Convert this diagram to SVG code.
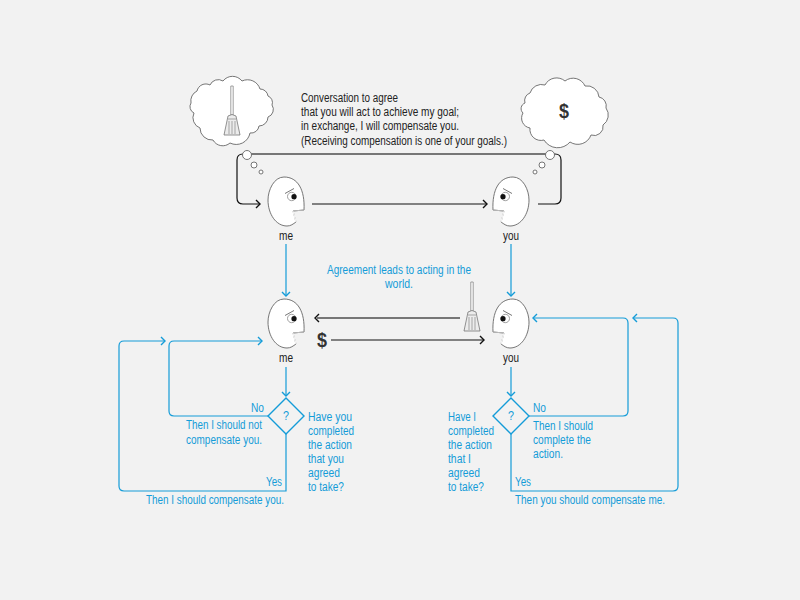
<svg xmlns="http://www.w3.org/2000/svg" width="800" height="600" viewBox="0 0 800 600">
<style>
text{font-family:"Liberation Sans",sans-serif;font-size:12px}
.k{fill:#222}.b{fill:#149cd8}
.bl{fill:none;stroke:#149cd8;stroke-width:1.2}
.bk{fill:none;stroke:#111;stroke-width:1.2}
.gy{fill:none;stroke:#777;stroke-width:2.2}
.ln{fill:#fff;stroke:#666;stroke-width:.9}
.face{fill:#fff;stroke:#666;stroke-width:.9}
.d{font-weight:bold;font-size:20px;fill:#333}
</style>
<defs>
<marker id="ab" markerUnits="userSpaceOnUse" markerWidth="8" markerHeight="10" refX="6" refY="5" orient="auto"><path d="M2 1L6 5L2 9" fill="none" stroke="#149cd8" stroke-width="1.4"/></marker>
<marker id="ak" markerUnits="userSpaceOnUse" markerWidth="8" markerHeight="10" refX="6" refY="5" orient="auto"><path d="M2 1L6 5L2 9" fill="none" stroke="#111" stroke-width="1.4"/></marker>
<g id="f"><path class="face" d="M304 210C305 190 298 177 284 177C274 177 268 190 268 200C268 214 276 226 287 226C291 226 293 224 296 222L293 211Z"/><path d="M293 211L296 222" stroke="#f2f2f2" stroke-width="1.4"/><path d="M304 210L293 211" stroke="#bbb" stroke-width="1"/><circle cx="291.7" cy="196.5" r="4.2" fill="#fff" stroke="#888" stroke-width=".8"/><circle cx="294" cy="196.700" r="2.6" fill="#111"/><path d="M285 193.500L294 188.500" stroke="#666" stroke-width=".9"/></g>
<g id="br"><path d="M-1.200 0H1.200V29H-1.200Z" fill="#fff" stroke="#888" stroke-width=".8"/><path d="M-4 30Q0 27 4 30L8 49H-8Z" fill="#ececec" stroke="#777" stroke-width=".8"/><path d="M-4 33H4M-3 35V48M0 35V48M3 35V48" stroke="#888" stroke-width=".7"/></g>
</defs>
<rect width="800" height="600" fill="#f2f2f2"/>
<g id="connectors">
<path class="gy" d="M247 154H550"/>
<path class="bk" d="M247 154H243Q237 154 237 160V198Q237 204 243 204H260" marker-end="url(#ak)"/>
<path class="bk" d="M312 204H487" marker-end="url(#ak)"/>
<path class="bk" d="M538 204H555Q561 204 561 198V160Q561 154 555 154H550"/>
<path class="bl" d="M286 244V296" marker-end="url(#ab)"/>
<path class="bl" d="M511 244V296" marker-end="url(#ab)"/>
<path class="gy" d="M460 318H317"/><path d="M319 314L315 318L319 322" fill="none" stroke="#111" stroke-width="1.4"/>
<path class="bk" d="M331 340H484" marker-end="url(#ak)"/>
<path class="bl" d="M286 367V396" marker-end="url(#ab)"/>
<path class="bl" d="M511 367V396" marker-end="url(#ab)"/>
<path class="bl" d="M268 416H174Q169 416 169 411V346Q169 341 174 341H262" marker-end="url(#ab)"/>
<path class="bl" d="M286 434V491H124Q119 491 119 486V346Q119 341 124 341H165" marker-end="url(#ab)"/>
<path class="bl" d="M529 416H623Q628 416 628 411V323Q628 318 623 318H533" marker-end="url(#ab)"/>
<path class="bl" d="M511 434V491H673Q678 491 678 486V323Q678 318 673 318H633" marker-end="url(#ab)"/>
</g>
<g id="cloud-me"><path class="ln" d="M197 91A9 9 0 0 1 210 85A9 9 0 0 1 223 81A12 12 0 0 1 242 81A13 13 0 0 1 260 89A8 8 0 0 1 268 96A7 7 0 0 1 272 105A8 8 0 0 1 268 117A9 9 0 0 1 259 126A8 8 0 0 1 250 133A14 14 0 0 1 230 143A11 11 0 0 1 213 140A12 12 0 0 1 200 128A11 11 0 0 1 194 113A7 7 0 0 1 191 103A11 11 0 0 1 197 91Z"/><use href="#br" x="232" y="86"/></g>
<g id="cloud-you"><path class="ln" d="M525 103A8 8 0 0 1 530 93A12 12 0 0 1 545 85A13 13 0 0 1 565 81A13 13 0 0 1 585 86A12 12 0 0 1 599 97A9 9 0 0 1 606 108A12 12 0 0 1 603 125A9 9 0 0 1 591 135A14 14 0 0 1 570 142A16 16 0 0 1 544 140A11 11 0 0 1 530 128A10 10 0 0 1 523 113A6 6 0 0 1 525 103Z"/><text class="d" x="564" y="118" text-anchor="middle" textLength="10" lengthAdjust="spacingAndGlyphs">$</text></g>
<g id="bubbles-me"><circle class="ln" cx="247" cy="155" r="4.5"/><circle class="ln" cx="254" cy="165" r="3"/><circle class="ln" cx="261" cy="172" r="2"/></g>
<g id="bubbles-you"><circle class="ln" cx="550" cy="155" r="4.5"/><circle class="ln" cx="542" cy="165" r="3"/><circle class="ln" cx="535" cy="172" r="2"/></g>
<g id="me-top"><use href="#f"/><text class="k" x="286" y="240" text-anchor="middle" textLength="14" lengthAdjust="spacingAndGlyphs">me</text></g>
<g id="you-top"><use href="#f" transform="translate(797 0) scale(-1 1)"/><text class="k" x="511" y="240" text-anchor="middle" textLength="16" lengthAdjust="spacingAndGlyphs">you</text></g>
<g id="me-bottom"><use href="#f" y="122"/><text class="k" x="286" y="362" text-anchor="middle" textLength="14" lengthAdjust="spacingAndGlyphs">me</text></g>
<g id="you-bottom"><use href="#f" transform="translate(797 122) scale(-1 1)"/><text class="k" x="511" y="362" text-anchor="middle" textLength="16" lengthAdjust="spacingAndGlyphs">you</text></g>
<g id="broom-mid"><use href="#br" x="472" y="282"/></g>
<g id="dollar-mid"><text class="d" x="322" y="347" text-anchor="middle" textLength="10" lengthAdjust="spacingAndGlyphs">$</text></g>
<g id="diamond-me"><path d="M286 398L304 416L286 434L268 416Z" fill="#f2f2f2" stroke="#149cd8" stroke-width="1.4"/><text class="b" x="286" y="420" text-anchor="middle" textLength="6" lengthAdjust="spacingAndGlyphs">?</text></g>
<g id="diamond-you"><path d="M511 398L529 416L511 434L493 416Z" fill="#f2f2f2" stroke="#149cd8" stroke-width="1.4"/><text class="b" x="511" y="420" text-anchor="middle" textLength="6" lengthAdjust="spacingAndGlyphs">?</text></g>
<g id="labels">
<text class="k" x="301" y="102" textLength="97" lengthAdjust="spacingAndGlyphs">Conversation to agree</text>
<text class="k" x="301" y="116" textLength="158" lengthAdjust="spacingAndGlyphs">that you will act to achieve my goal;</text>
<text class="k" x="301" y="130" textLength="158" lengthAdjust="spacingAndGlyphs">in exchange, I will compensate you.</text>
<text class="k" x="301" y="145" textLength="206" lengthAdjust="spacingAndGlyphs">(Receiving compensation is one of your goals.)</text>
<text class="b" x="399" y="274" text-anchor="middle" textLength="144" lengthAdjust="spacingAndGlyphs">Agreement leads to acting in the</text>
<text class="b" x="399" y="288" text-anchor="middle" textLength="28" lengthAdjust="spacingAndGlyphs">world.</text>
<text class="b" x="264" y="412" text-anchor="end" textLength="13" lengthAdjust="spacingAndGlyphs">No</text>
<text class="b" x="262" y="429" text-anchor="end" textLength="76" lengthAdjust="spacingAndGlyphs">Then I should not</text>
<text class="b" x="262" y="444" text-anchor="end" textLength="76" lengthAdjust="spacingAndGlyphs">compensate you.</text>
<text class="b" x="282" y="486" text-anchor="end" textLength="16" lengthAdjust="spacingAndGlyphs">Yes</text>
<text class="b" x="284" y="504" text-anchor="end" textLength="138" lengthAdjust="spacingAndGlyphs">Then I should compensate you.</text>
<text class="b" x="308" y="421" textLength="44" lengthAdjust="spacingAndGlyphs">Have you</text>
<text class="b" x="308" y="435" textLength="46" lengthAdjust="spacingAndGlyphs">completed</text>
<text class="b" x="308" y="449" textLength="44" lengthAdjust="spacingAndGlyphs">the action</text>
<text class="b" x="308" y="463" textLength="36" lengthAdjust="spacingAndGlyphs">that you</text>
<text class="b" x="308" y="477" textLength="32" lengthAdjust="spacingAndGlyphs">agreed</text>
<text class="b" x="308" y="491" textLength="36" lengthAdjust="spacingAndGlyphs">to take?</text>
<text class="b" x="448" y="421" textLength="28" lengthAdjust="spacingAndGlyphs">Have I</text>
<text class="b" x="448" y="435" textLength="46" lengthAdjust="spacingAndGlyphs">completed</text>
<text class="b" x="448" y="449" textLength="44" lengthAdjust="spacingAndGlyphs">the action</text>
<text class="b" x="448" y="463" textLength="23" lengthAdjust="spacingAndGlyphs">that I</text>
<text class="b" x="448" y="477" textLength="32" lengthAdjust="spacingAndGlyphs">agreed</text>
<text class="b" x="448" y="491" textLength="36" lengthAdjust="spacingAndGlyphs">to take?</text>
<text class="b" x="533" y="412" textLength="13" lengthAdjust="spacingAndGlyphs">No</text>
<text class="b" x="533" y="430" textLength="60" lengthAdjust="spacingAndGlyphs">Then I should</text>
<text class="b" x="533" y="444" textLength="58" lengthAdjust="spacingAndGlyphs">complete the</text>
<text class="b" x="533" y="458" textLength="30" lengthAdjust="spacingAndGlyphs">action.</text>
<text class="b" x="515" y="486" textLength="16" lengthAdjust="spacingAndGlyphs">Yes</text>
<text class="b" x="515" y="504" textLength="150" lengthAdjust="spacingAndGlyphs">Then you should compensate me.</text>
</g>
</svg>
